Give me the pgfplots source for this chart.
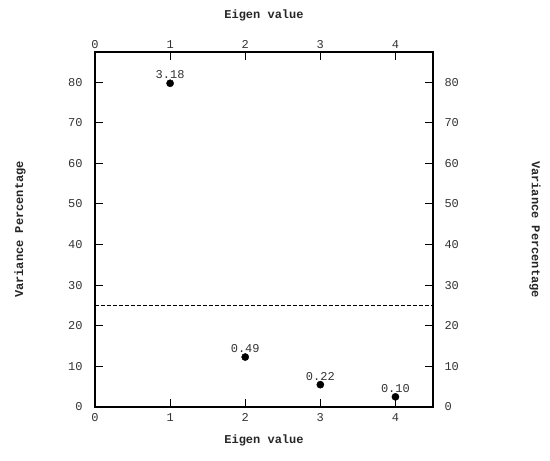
\documentclass[border=0pt]{standalone}
\usepackage{fontspec}
\setmainfont{Liberation Mono}
\usepackage{pgfplots}
\pgfplotsset{compat=1.18}

\pgfplotstableread{
x y lab
1 79.7 3.18
2 12.3 0.49
3 5.5 0.22
4 2.5 0.10
}\eigtable

\tikzset{lbl/.style={font=\fontsize{12}{14}\selectfont\bfseries, text=black!85}}

\pgfplotsset{
  base/.style={
    scale only axis,
    width=338pt, height=355pt,
    xmin=0, xmax=4.5, ymin=0, ymax=87.4,
    xtick={0,1,2,3,4}, ytick={0,10,...,80},
    tick align=inside,
    major tick length=8pt,
    tick style={black, line width=1pt},
    axis line style={line width=1.5pt},
    /pgf/number format/assume math mode=true,
    tick label style={font=\fontsize{12}{14}\selectfont, text=black!80},
  },
}

\begin{document}
\begin{tikzpicture}
\begin{axis}[base,
    at={(0,0)}, anchor=south west,
    xtick pos=left, ytick pos=left,
    xticklabel style={yshift=-3pt},
    yticklabel style={xshift=-9pt},
    xlabel={Eigen value}, ylabel={Variance Percentage},
    every axis x label/.style={lbl, at={(axis description cs:0.5,-0.093)}, anchor=center},
    every axis y label/.style={lbl, at={(axis description cs:-0.222,0.5)}, anchor=center, rotate=90},
]
\addplot[black, line width=1.5pt, dash pattern=on 4pt off 2pt] coordinates {(0,25) (4.5,25)};
\addplot[only marks, mark=*, mark size=3.6pt, black,
    nodes near coords, point meta=explicit symbolic,
    every node near coord/.style={font=\fontsize{12}{14}\selectfont, text=black!80, anchor=south, yshift=1pt}]
    table[x=x, y=y, meta=lab] {\eigtable};
\end{axis}
\begin{axis}[base,
    at={(0,0)}, anchor=south west,
    axis x line*=top, axis y line*=right,
    xtick pos=right, ytick pos=right,
    yticklabel style={xshift=8pt},
    xlabel={Eigen value}, ylabel={Variance Percentage},
    every axis x label/.style={lbl, at={(axis description cs:0.5,1.104)}, anchor=center},
    every axis y label/.style={lbl, at={(axis description cs:1.302,0.5)}, anchor=center, rotate=-90},
]
\end{axis}
\path[use as bounding box] (-95pt,-54pt) rectangle (455pt,407pt);
\end{tikzpicture}
\end{document}
